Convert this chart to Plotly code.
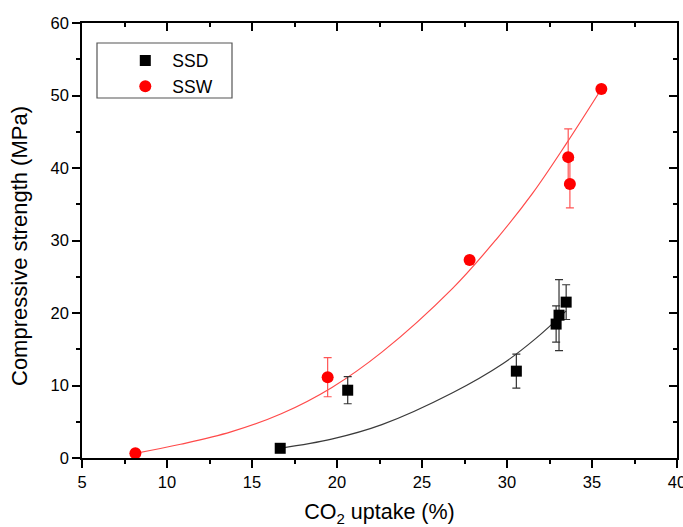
import plotly.graph_objects as go

# ---- data ----
ssd_x = [16.66, 20.63, 30.55, 32.89, 33.06, 33.48]
ssd_y = [1.34, 9.35, 11.98, 18.47, 19.7, 21.5]
ssd_err = [0.0, 1.87, 2.35, 2.5, 4.9, 2.4]

ssw_x = [8.14, 19.45, 27.8, 33.6, 33.7, 35.55]
ssw_y = [0.65, 11.15, 27.3, 41.5, 37.8, 50.9]
ssw_err = [0.0, 2.7, 0.5, 3.9, 3.3, 0.0]

# fitted curves
ssd_fit_x = [16.66, 19.68, 22.64, 26.8, 29.75, 31.7, 33.48]
ssd_fit_y = [1.34, 2.6, 4.6, 9.0, 13.0, 16.5, 20.3]
ssw_fit_x = [8.14, 10.8, 13.76, 16.72, 19.68, 22.64, 26.8, 29.35, 31.5, 33.5, 35.55]
ssw_fit_y = [0.65, 1.9, 3.6, 6.1, 9.7, 14.6, 23.4, 30.1, 36.5, 43.4, 50.9]

x_title = "CO<sub>2</sub> uptake (%)"
y_title = "Compressive strength (MPa)"

FONT = "Liberation Sans, Arial, sans-serif"
L, R, T, B = 82, 6, 23, 69
PW, PH = 683 - L - R, 527 - T - B

fig = go.Figure()

fig.add_trace(go.Scatter(x=ssd_fit_x, y=ssd_fit_y, mode="lines", line=dict(color="#3a3a3a", width=1.2, shape="spline"),
                         showlegend=False, hoverinfo="skip"))
fig.add_trace(go.Scatter(x=ssw_fit_x, y=ssw_fit_y, mode="lines", line=dict(color="#ff4a4a", width=1.2, shape="spline"),
                         showlegend=False, hoverinfo="skip"))

fig.add_trace(go.Scatter(x=ssd_x, y=ssd_y, mode="markers", name="SSD",
                         marker=dict(symbol="square", size=11, color="black"),
                         error_y=dict(type="data", array=ssd_err, visible=True, color="#333333", thickness=1.2, width=4)))
fig.add_trace(go.Scatter(x=ssw_x, y=ssw_y, mode="markers", name="SSW",
                         marker=dict(symbol="circle", size=12, color="#ff0000"),
                         error_y=dict(type="data", array=ssw_err, visible=True, color="#ff5555", thickness=1.2, width=4)))

# invisible trace to carry the mirrored top/right axes
fig.add_trace(go.Scatter(x=[5], y=[0], xaxis="x2", yaxis="y2", mode="markers",
                         marker=dict(opacity=0), showlegend=False, hoverinfo="skip"))

axis_common = dict(showgrid=False, zeroline=False, showline=True, linecolor="black", linewidth=1.5,
                   tickcolor="black", tickwidth=1.5, ticklen=8, automargin=False)

fig.update_layout(
    width=683, height=527,
    margin=dict(l=L, r=R, t=T, b=B, autoexpand=False),
    paper_bgcolor="white", plot_bgcolor="white",
    font=dict(family=FONT, color="black"),
    xaxis=dict(range=[5, 40], dtick=5, tick0=5, ticks="outside", ticklabeloverflow="allow",
               minor=dict(ticks="outside", dtick=2.5, ticklen=4, tickcolor="black", tickwidth=1.5),
               tickfont=dict(size=16.5, family=FONT),
               title=dict(text=x_title, font=dict(size=21.5, family=FONT), standoff=19),
               **axis_common),
    yaxis=dict(range=[0, 60], dtick=10, ticks="outside", ticklabeloverflow="allow",
               minor=dict(ticks="outside", dtick=5, ticklen=4, tickcolor="black", tickwidth=1.5),
               tickfont=dict(size=16.5, family=FONT),
               **axis_common),
    xaxis2=dict(range=[5, 40], dtick=5, tick0=5, overlaying="x", side="top", ticks="inside",
                showticklabels=False,
                minor=dict(ticks="inside", dtick=2.5, ticklen=4, tickcolor="black", tickwidth=1.5),
                **axis_common),
    yaxis2=dict(range=[0, 60], dtick=10, overlaying="y", side="right", ticks="inside",
                showticklabels=False,
                minor=dict(ticks="inside", dtick=5, ticklen=4, tickcolor="black", tickwidth=1.5),
                **axis_common),
    legend=dict(x=0.061, y=0.955, xanchor="left", yanchor="top", bgcolor="rgba(0,0,0,0)",
                borderwidth=0, font=dict(size=17.5, family=FONT), itemwidth=44, tracegroupgap=0),
    annotations=[dict(text=y_title, textangle=-90, xref="paper", yref="paper",
                      x=(20 - L) / PW, y=1 - (246 - T) / PH, xanchor="center", yanchor="middle",
                      showarrow=False, font=dict(size=22, family=FONT, color="black"))],
    shapes=[dict(type="rect", xref="paper", yref="paper",
                 x0=(97 - L) / PW, x1=(232 - L) / PW,
                 y0=1 - (98 - T) / PH, y1=1 - (43 - T) / PH,
                 line=dict(color="#555555", width=1.2), fillcolor="rgba(0,0,0,0)")],
)

fig.write_html("out.html")
